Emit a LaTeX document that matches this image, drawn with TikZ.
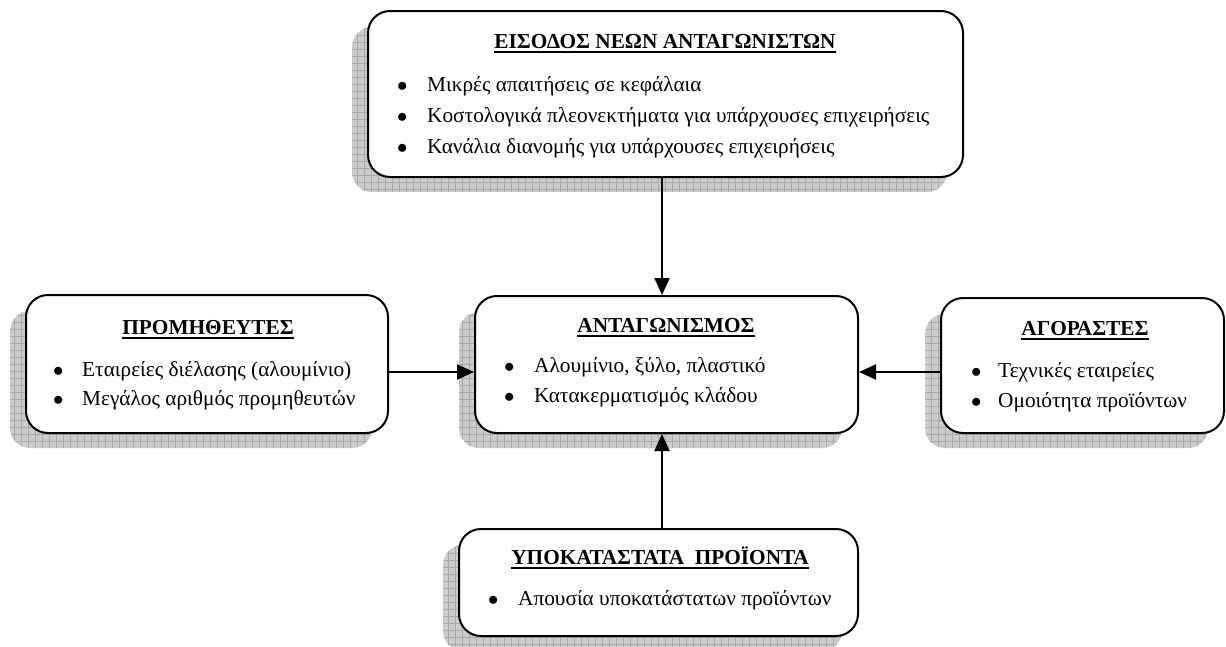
\documentclass[tikz,border=0pt]{standalone}
\usepackage{fontspec}
\setmainfont{Liberation Serif}
\usetikzlibrary{arrows.meta}
\definecolor{shfill}{gray}{0.80}
\definecolor{shgrid}{gray}{0.66}
\tikzset{
  box/.style={draw, line width=2pt, rounded corners=22pt, fill=white, inner sep=0pt},
  ttl/.style={font=\fontsize{21.3}{25}\selectfont\bfseries, inner sep=0pt, anchor=base},
  itm/.style={font=\fontsize{21.3}{25}\selectfont, inner sep=0pt, anchor=base west},
  conn/.style={line width=2pt, -{Triangle[length=17pt,width=15pt]}},
}
\newcommand\myshadow[4]{%
  \begin{scope}
    \clip[rounded corners=20pt] (#1-16,#2+16) rectangle (#3-16,#4+15);
    \fill[shfill] (#1-16,#2+16) rectangle (#3-16,#4+15);
    \draw[shgrid, line width=0.6pt, step=7pt] (#1-16,#2+16) grid (#3-16,#4+15);
  \end{scope}}
\newcommand\myul[1]{\sbox0{#1}\usebox0\llap{\rule[-4.5pt]{\wd0}{1.6pt}}}
\newcommand\bul[1][30pt]{\makebox[#1][l]{$\bullet$}}
\begin{document}
\begin{tikzpicture}[x=1pt,y=-1pt]
\useasboundingbox (0,0) rectangle (1226,646);
% shadows
\myshadow{368}{11}{963}{177}
\myshadow{26}{295}{388}{433}
\myshadow{475}{296}{858}{433}
\myshadow{941}{298}{1224}{433}
\myshadow{459}{529}{858}{636}
% boxes
\node[box, minimum width=595pt, minimum height=166pt] (top) at (665.5,94) {};
\node[box, minimum width=362pt, minimum height=138pt] (left) at (207,364) {};
\node[box, minimum width=383pt, minimum height=137pt] (mid) at (666.5,364.5) {};
\node[box, minimum width=283pt, minimum height=135pt] (right) at (1082.5,365.5) {};
\node[box, minimum width=399pt, minimum height=107pt] (bot) at (658.5,582.5) {};
% top texts
\node[ttl] (topT) at (665,48) {\myul{ΕΙΣΟΔΟΣ ΝΕΩΝ ΑΝΤΑΓΩΝΙΣΤΩΝ}};
\node[itm] (top1) at (397,91) {\bul Μικρές απαιτήσεις σε κεφάλαια};
\node[itm] (top2) at (397,122) {\bul Κοστολογικά πλεονεκτήματα για υπάρχουσες επιχειρήσεις};
\node[itm] (top3) at (397,153) {\bul Κανάλια διανομής για υπάρχουσες επιχειρήσεις};
% left texts
\node[ttl] (leftT) at (208,334) {\myul{ΠΡΟΜΗΘΕΥΤΕΣ}};
\node[itm] (left1) at (53,376) {\bul[29pt]Εταιρείες διέλασης (αλουμίνιο)};
\node[itm] (left2) at (53,405) {\bul[29pt]Μεγάλος αριθμός προμηθευτών};
% middle texts
\node[ttl] (midT) at (666,332) {\myul{ΑΝΤΑΓΩΝΙΣΜΟΣ}};
\node[itm] (mid1) at (504,372) {\bul Αλουμίνιο, ξύλο, πλαστικό};
\node[itm] (mid2) at (504,402) {\bul Κατακερματισμός κλάδου};
% right texts
\node[ttl] (rightT) at (1085,335) {\myul{ΑΓΟΡΑΣΤΕΣ}};
\node[itm] (right1) at (971,377) {\bul[27pt]Τεχνικές εταιρείες};
\node[itm] (right2) at (971,407) {\bul[27pt]Ομοιότητα προϊόντων};
% bottom texts
\node[ttl] (botT) at (660,564) {\myul{ΥΠΟΚΑΤΑΣΤΑΤΑ\ \ ΠΡΟΪΟΝΤΑ}};
\node[itm] (bot1) at (488,605) {\bul[30pt]Απουσία υποκατάστατων προϊόντων};
% connectors
\coordinate (ax) at (662,0);
\coordinate (ay) at (0,372);
\draw[conn] (top.south -| ax) -- (mid.north -| ax);
\draw[conn] (bot.north -| ax) -- (mid.south -| ax);
\draw[conn] (left.east |- ay) -- (mid.west |- ay);
\draw[conn] (right.west |- ay) -- (mid.east |- ay);
\end{tikzpicture}
\end{document}
